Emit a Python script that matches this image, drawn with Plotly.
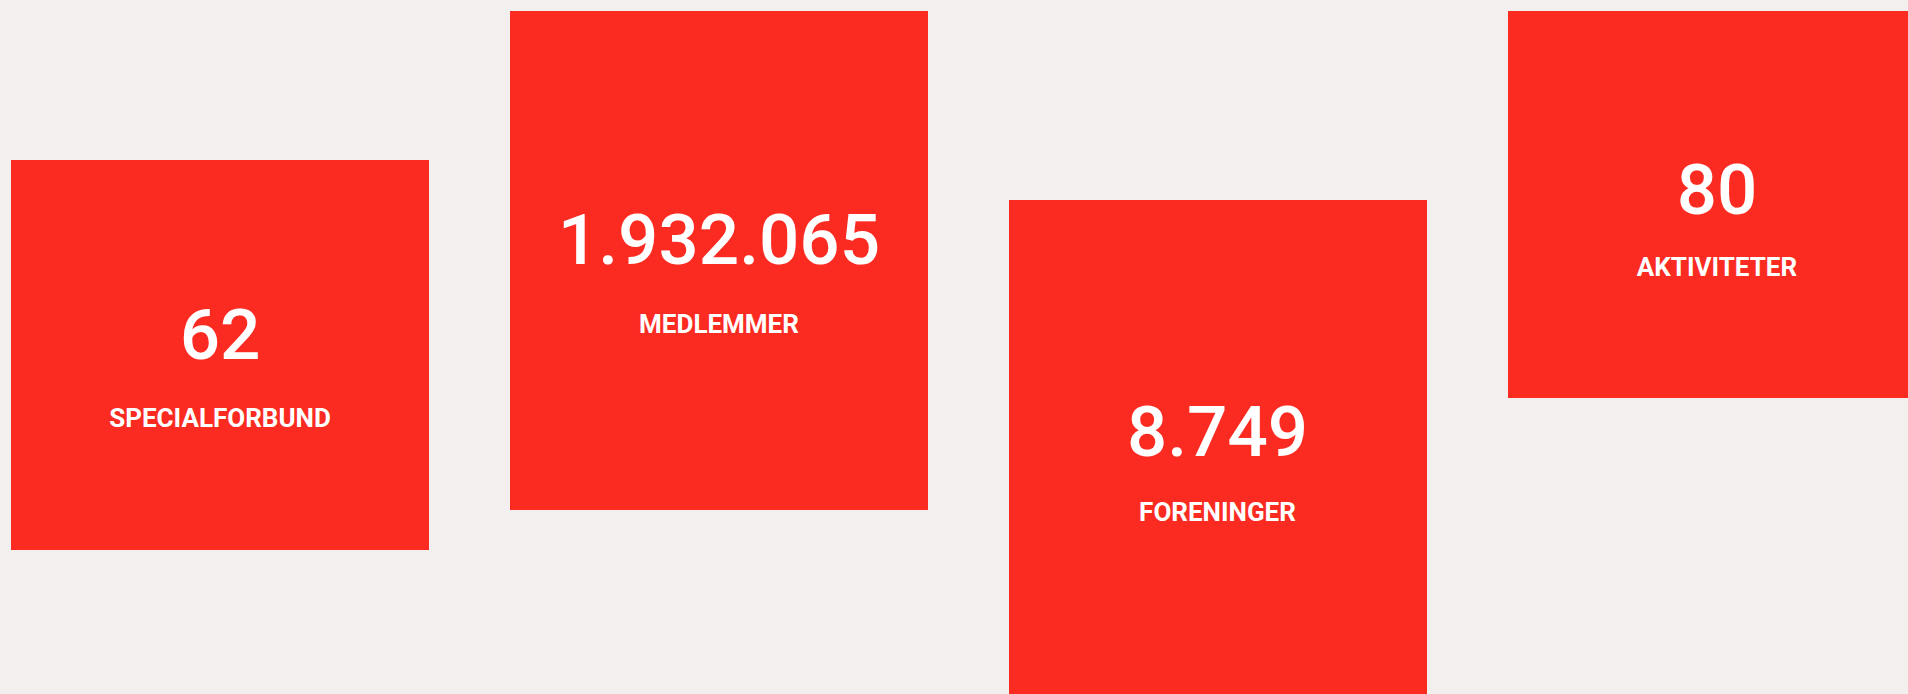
import plotly.graph_objects as go

# ---- data ----
labels = ["SPECIALFORBUND", "MEDLEMMER", "FORENINGER", "AKTIVITETER"]
values = [62, 1932065, 8749, 80]

# ---- layout (pixel positions of the tiles) ----
box_center_x = [220, 719, 1217.5, 1717]
box_top = [160, 11, 200, 11]
box_height = [390, 499, 520, 387]
box_width = 418
number_offset = [181, 235, 238, 185]   # number centre below tile top
label_offset = [260, 315, 314, 258]    # label centre below tile top

RED = "#fb2b22"
BG = "#f2efee"

fig = go.Figure()

fig.add_trace(go.Bar(
    x=box_center_x,
    y=box_height,
    base=box_top,
    width=[box_width] * len(values),
    marker=dict(color=RED, line=dict(width=0)),
    hoverinfo="skip",
    showlegend=False,
))

fig.add_trace(go.Scatter(
    x=box_center_x,
    y=[t + o for t, o in zip(box_top, number_offset)],
    mode="text",
    customdata=values,
    texttemplate="%{customdata:,}",
    textposition="middle center",
    textfont=dict(family="Roboto Medium, Roboto", size=71, color="white", weight=500),
    hoverinfo="skip",
    showlegend=False,
))

fig.add_trace(go.Scatter(
    x=box_center_x,
    y=[t + o for t, o in zip(box_top, label_offset)],
    mode="text",
    text=labels,
    textposition="middle center",
    textfont=dict(family="Roboto", size=26, color="white", weight="bold"),
    hoverinfo="skip",
    showlegend=False,
))

fig.update_layout(
    width=1908,
    height=694,
    margin=dict(l=0, r=0, t=0, b=0),
    paper_bgcolor=BG,
    plot_bgcolor=BG,
    separators=",.",
    xaxis=dict(range=[0, 1908], visible=False, fixedrange=True),
    yaxis=dict(range=[694, 0], visible=False, fixedrange=True),
    bargap=0,
)

fig.write_html(
    "out.html",
    config={"displayModeBar": False},
    post_script="document.body.style.margin='0';document.body.style.overflow='hidden';document.body.style.background='%s';" % BG,
)
